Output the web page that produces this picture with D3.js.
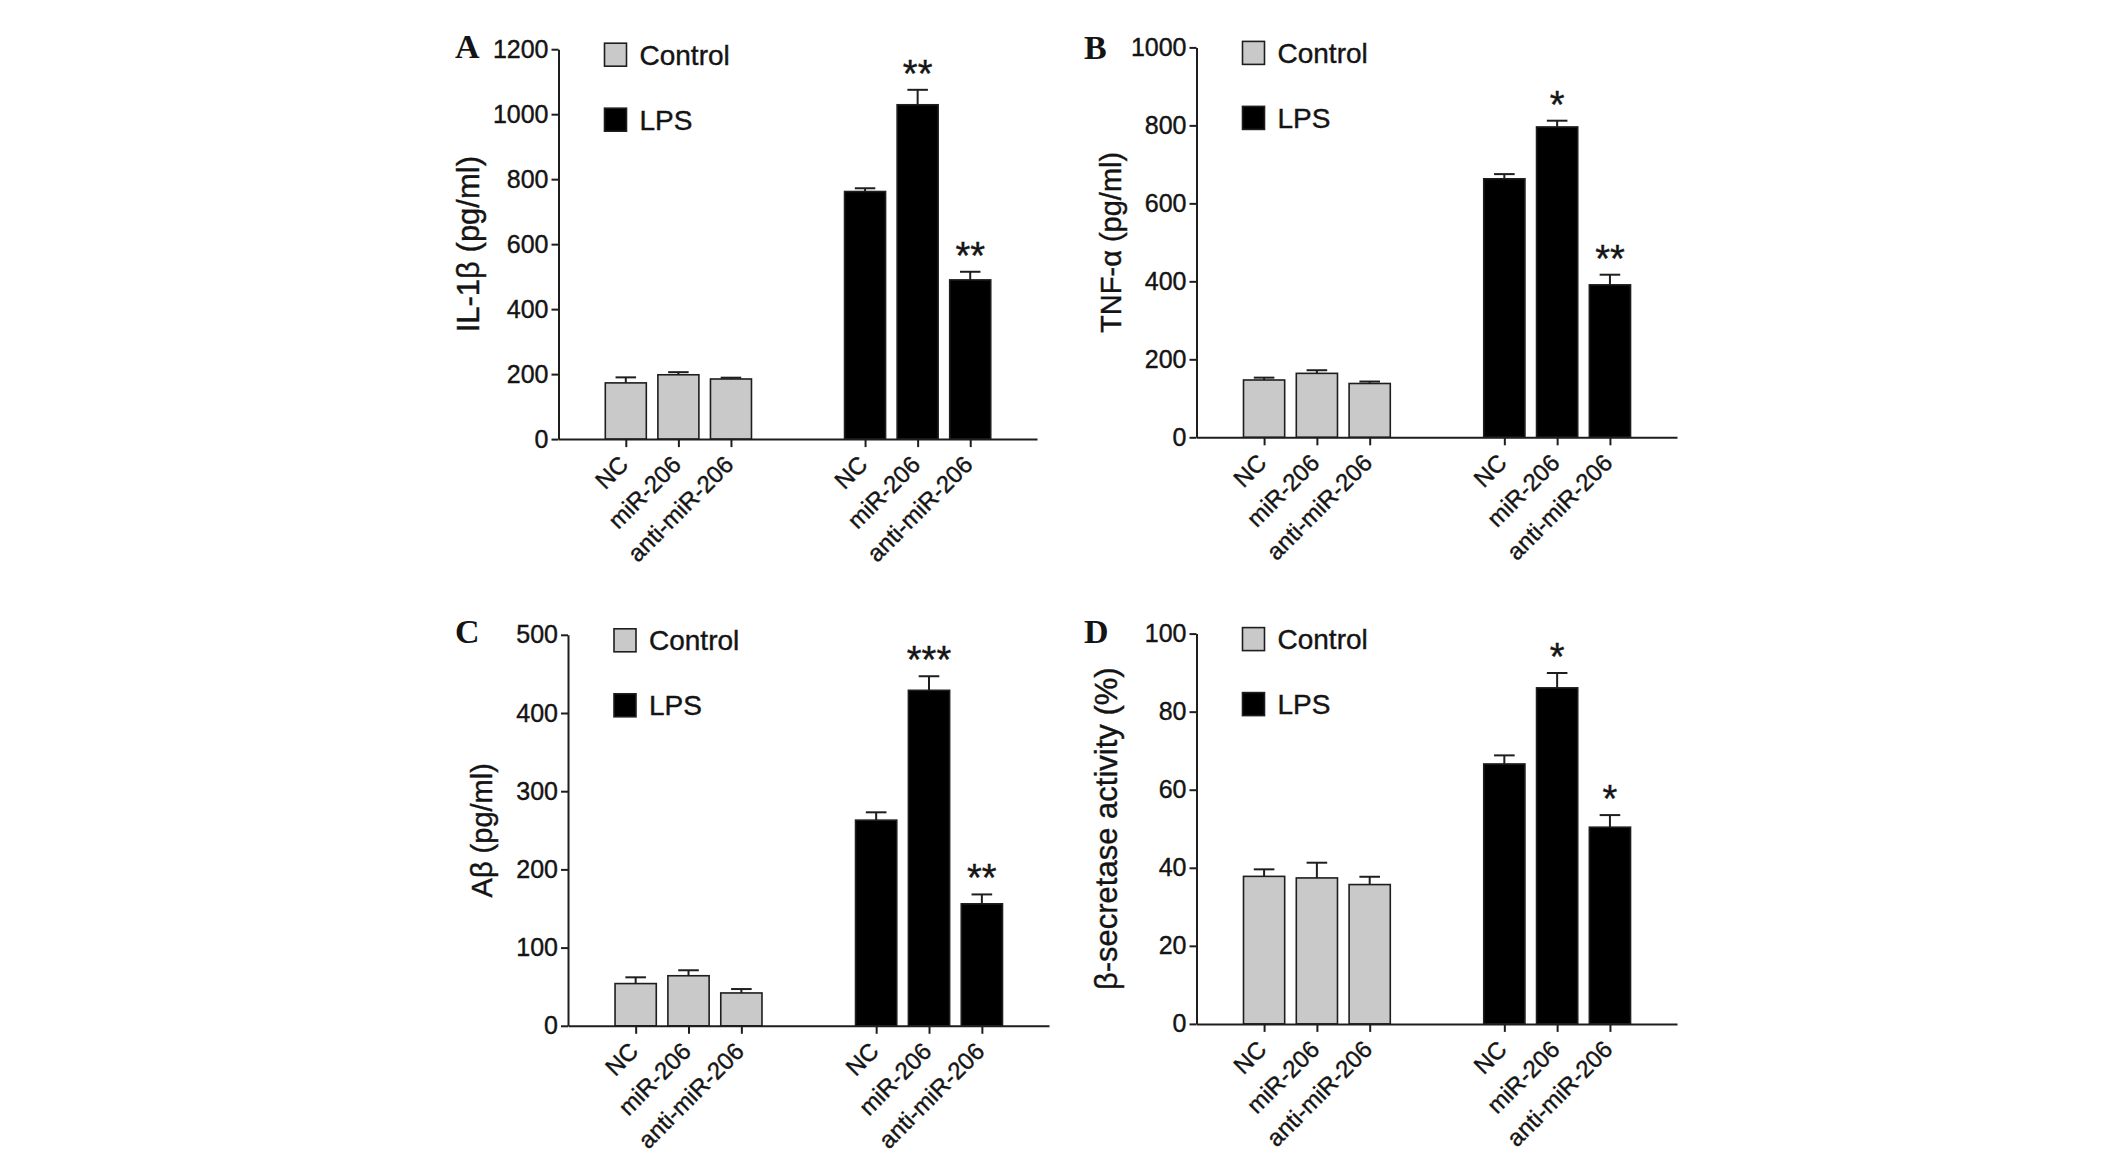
<!DOCTYPE html>
<html>
<head>
<meta charset="utf-8">
<script src="https://cdn.jsdelivr.net/npm/d3@7"></script>
<style>
  html, body { margin: 0; padding: 0; background: #fff; }
  text { font-family: "Liberation Sans", Arial, sans-serif; fill: #141414; stroke: #141414; stroke-width: 0.4px; }
</style>
</head>
<body>
<svg id="chart" width="2125" height="1159"></svg>
<script>
// ---------------- data ----------------
const seriesNames = ["Control", "LPS"];
const conditions = ["NC", "miR-206", "anti-miR-206"];

const il1bMean = [173, 198, 185, 762, 1029, 490];
const il1bErr  = [17, 8, 4, 10, 46, 25];
const il1bSig  = ["", "", "", "", "**", "**"];
const il1bTicks = [0, 200, 400, 600, 800, 1000, 1200];

const tnfMean = [147, 164, 138, 663, 796, 391];
const tnfErr  = [6, 8, 5, 12, 16, 26];
const tnfSig  = ["", "", "", "", "*", "**"];
const tnfTicks = [0, 200, 400, 600, 800, 1000];

const abMean = [54, 64, 42, 263, 429, 156];
const abErr  = [8, 7, 5, 10, 18, 12];
const abSig  = ["", "", "", "", "***", "**"];
const abTicks = [0, 100, 200, 300, 400, 500];

const bsecMean = [37.8, 37.4, 35.7, 66.6, 86.1, 50.4];
const bsecErr  = [1.8, 3.9, 2.0, 2.2, 3.8, 3.1];
const bsecSig  = ["", "", "", "", "*", "*"];
const bsecTicks = [0, 20, 40, 60, 80, 100];

const panelLetters = ["A", "B", "C", "D"];
const yTitles = ["IL-1β (pg/ml)", "TNF-α (pg/ml)", "Aβ (pg/ml)", "β-secretase activity (%)"];

// ---------------- layout (positions / styles only) ----------------
const layouts = [
  {axisX: 558.5, xEnd: 1037, yTop: 49.2, yBase: 439.1, letterX: 455,  letterY: 58,  titleOff: 80, titleSize: 31},
  {axisX: 1196.5, xEnd: 1677, yTop: 47.4, yBase: 437.3, letterX: 1084, letterY: 59,  titleOff: 76, titleSize: 29},
  {axisX: 568,   xEnd: 1049, yTop: 634.8, yBase: 1025.8, letterX: 455,  letterY: 643, titleOff: 76, titleSize: 29},
  {axisX: 1196.5, xEnd: 1677, yTop: 633.6, yBase: 1023.9, letterX: 1084, letterY: 643, titleOff: 80, titleSize: 31}
];
const slotDomain = [0, 9.1];
const firstSlot = 1.28;
const groupOffset = 4.55;
const barWidthSlots = 0.78;
const GRAY = "#c9c9c9";
const INK = "#1e1e1e";

const svg = d3.select("#chart");

function drawPanel(idx, mean, err, sig, ticks) {
  const L = layouts[idx];
  const g = svg.append("g");
  const x = d3.scaleLinear().domain(slotDomain).range([L.axisX, L.xEnd]);
  const y = d3.scaleLinear().domain([0, d3.max(ticks)]).range([L.yBase, L.yTop]);
  const bw = x(barWidthSlots) - x(0);

  const rows = mean.map((m, i) => ({
    mean: m, err: err[i], sig: sig[i],
    series: seriesNames[Math.floor(i / 3)],
    label: conditions[i % 3],
    slot: firstSlot + (i % 3) + Math.floor(i / 3) * groupOffset
  }));

  // bars
  g.selectAll("rect.bar").data(rows).enter().append("rect")
    .attr("class", "bar")
    .attr("x", d => x(d.slot) - bw / 2)
    .attr("y", d => y(d.mean))
    .attr("width", bw)
    .attr("height", d => y(0) - y(d.mean))
    .attr("fill", d => d.series === "Control" ? GRAY : "#000")
    .attr("stroke", INK)
    .attr("stroke-width", 1.6);

  // error bars (upper only)
  const capHalf = bw * 0.25;
  g.selectAll("line.ev").data(rows).enter().append("line")
    .attr("x1", d => x(d.slot)).attr("x2", d => x(d.slot))
    .attr("y1", d => y(d.mean)).attr("y2", d => y(d.mean + d.err))
    .attr("stroke", INK).attr("stroke-width", 2);
  g.selectAll("line.cap").data(rows).enter().append("line")
    .attr("x1", d => x(d.slot) - capHalf).attr("x2", d => x(d.slot) + capHalf)
    .attr("y1", d => y(d.mean + d.err)).attr("y2", d => y(d.mean + d.err))
    .attr("stroke", INK).attr("stroke-width", 2);

  // significance stars
  g.selectAll("text.sig").data(rows.filter(d => d.sig)).enter().append("text")
    .attr("x", d => x(d.slot))
    .attr("y", d => y(d.mean + d.err) - 3)
    .attr("text-anchor", "middle")
    .style("font-size", "38px")
    .text(d => d.sig);

  // y axis
  const yAxis = d3.axisLeft(y).tickValues(ticks).tickFormat(d3.format("d"))
    .tickSize(7).tickPadding(3).tickSizeOuter(0);
  const ya = g.append("g").attr("transform", `translate(${L.axisX},0)`).call(yAxis);
  ya.select(".domain").attr("stroke", INK).attr("stroke-width", 2);
  ya.selectAll(".tick line").attr("stroke", INK).attr("stroke-width", 2);
  ya.selectAll(".tick text").style("font-size", "25px")
    .style("font-family", "Liberation Sans, Arial, sans-serif").attr("fill", "#141414");

  // x axis
  const xAxis = d3.axisBottom(x).tickValues(rows.map(d => d.slot)).tickSize(8).tickFormat("").tickSizeOuter(0);
  const xa = g.append("g").attr("transform", `translate(0,${L.yBase})`).call(xAxis);
  xa.select(".domain").attr("stroke", INK).attr("stroke-width", 2);
  xa.selectAll(".tick line").attr("stroke", INK).attr("stroke-width", 2);

  g.selectAll("text.xl").data(rows).enter().append("text")
    .attr("class", "xl")
    .attr("transform", d => `translate(${x(d.slot) + 4},${L.yBase + 27}) rotate(-45)`)
    .attr("text-anchor", "end")
    .style("font-size", "24px")
    .text(d => d.label);

  // y title
  g.append("text")
    .attr("transform", `translate(${L.axisX - L.titleOff},${(L.yTop + L.yBase) / 2}) rotate(-90)`)
    .attr("text-anchor", "middle")
    .style("font-size", L.titleSize + "px")
    .text(yTitles[idx]);

  // panel letter
  g.append("text")
    .attr("x", L.letterX).attr("y", L.letterY)
    .style("font-family", "Liberation Serif, Times New Roman, serif")
    .style("font-weight", "bold")
    .style("font-size", "34px")
    .style("stroke-width", "0px")
    .text(panelLetters[idx]);

  // legend
  const leg = g.selectAll("g.leg").data(seriesNames).enter().append("g")
    .attr("transform", (d, i) => `translate(${L.axisX + 46},${L.yTop - 6 + i * 65})`);
  leg.append("rect")
    .attr("width", 22).attr("height", 23)
    .attr("fill", d => d === "Control" ? GRAY : "#000")
    .attr("stroke", INK).attr("stroke-width", 1.6);
  leg.append("text")
    .attr("x", 35).attr("y", 11.5).attr("dy", "0.35em")
    .style("font-size", "28px")
    .text(d => d);
}

drawPanel(0, il1bMean, il1bErr, il1bSig, il1bTicks);
drawPanel(1, tnfMean, tnfErr, tnfSig, tnfTicks);
drawPanel(2, abMean, abErr, abSig, abTicks);
drawPanel(3, bsecMean, bsecErr, bsecSig, bsecTicks);
</script>
</body>
</html>
